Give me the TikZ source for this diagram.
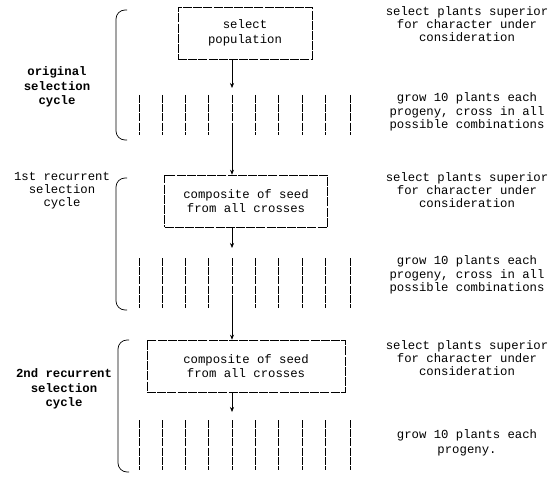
\documentclass[tikz,border=0pt]{standalone}
\usepackage{fontspec}
\setmainfont{Liberation Mono}
\usetikzlibrary{arrows.meta}
\begin{document}
\begin{tikzpicture}[x=1pt,y=-1pt,
  txt/.style={font=\fontsize{12.3}{13.2}\selectfont, align=center, inner sep=0pt},
  boxed/.style={draw, line width=0.6pt, dash pattern=on 9pt off 1.2pt, minimum height=52pt, inner sep=0pt, font=\fontsize{12.3}{14.5}\selectfont, align=center},
  stem/.style={line width=0.7pt, dash pattern=on 8pt off 1.2pt},
  flow/.style={-{Stealth[length=5pt,width=4pt]}, line width=0.6pt},
  brack/.style={line width=0.7pt, rounded corners=9pt}]
\useasboundingbox (0,0) rectangle (553,476);

% boxes
\node[boxed, minimum width=134pt] (b1) at (245,33) {select\\population};
\node[boxed, minimum width=163pt] (b2) at (246,201) {composite of seed\\from all crosses};
\node[boxed, minimum width=198pt] (b3) at (246,366) {composite of seed\\from all crosses};

% left labels
\node[txt, font=\fontsize{12.3}{14.5}\selectfont\bfseries] (l1) at (57,87) {original\\selection\\cycle};
\node[txt, font=\fontsize{12.3}{13}\selectfont] (l2) at (62,191) {1st recurrent\\selection\\cycle};
\node[txt, font=\fontsize{12.3}{14.5}\selectfont\bfseries] (l3) at (64,389) {2nd recurrent\\selection\\cycle};

% right labels
\node[txt] (r1) at (467,24) {select plants superior\\for character under\\consideration};
\node[txt] (r2) at (467,112) {grow 10 plants each\\progeny, cross in all\\possible combinations};
\node[txt] (r3) at (467,190) {select plants superior\\for character under\\consideration};
\node[txt] (r4) at (467,275) {grow 10 plants each\\progeny, cross in all\\possible combinations};
\node[txt] (r5) at (467,358) {select plants superior\\for character under\\consideration};
\node[txt, font=\fontsize{12.3}{15}\selectfont] (r6) at (467,443) {grow 10 plants each\\progeny.};

% progeny rows
\foreach \r/\yt/\yb in {1/95/135, 2/258/308, 3/420/470}{
  \foreach \i/\x in {1/139,2/162,3/185,4/208,5/232,6/255,7/278,8/302,9/325,10/350}{
    \coordinate (p\r t\i) at (\x,\yt);
    \coordinate (p\r b\i) at (\x,\yb);
    \draw[stem] (p\r t\i) -- (p\r b\i);
  }
}

% arrows
\coordinate (e1) at (232,88);
\coordinate (e2) at (232,248);
\coordinate (e3) at (232,412);
\draw[flow] (b1.south -| e1) -- (e1);
\draw[flow] ([yshift=5pt]p1b5) -- (b2.north -| p1b5);
\draw[flow] (b2.south -| e2) -- (e2);
\draw[flow] ([yshift=5pt]p2b5) -- (b3.north -| p2b5);
\draw[flow] (b3.south -| e3) -- (e3);

% brackets
\draw[brack] (127,10) -- (116,10) -- (116,140) -- (127,140);
\draw[brack] (127,178) -- (116,178) -- (116,310) -- (127,310);
\draw[brack] (129,340) -- (118,340) -- (118,472) -- (129,472);
\end{tikzpicture}
\end{document}
